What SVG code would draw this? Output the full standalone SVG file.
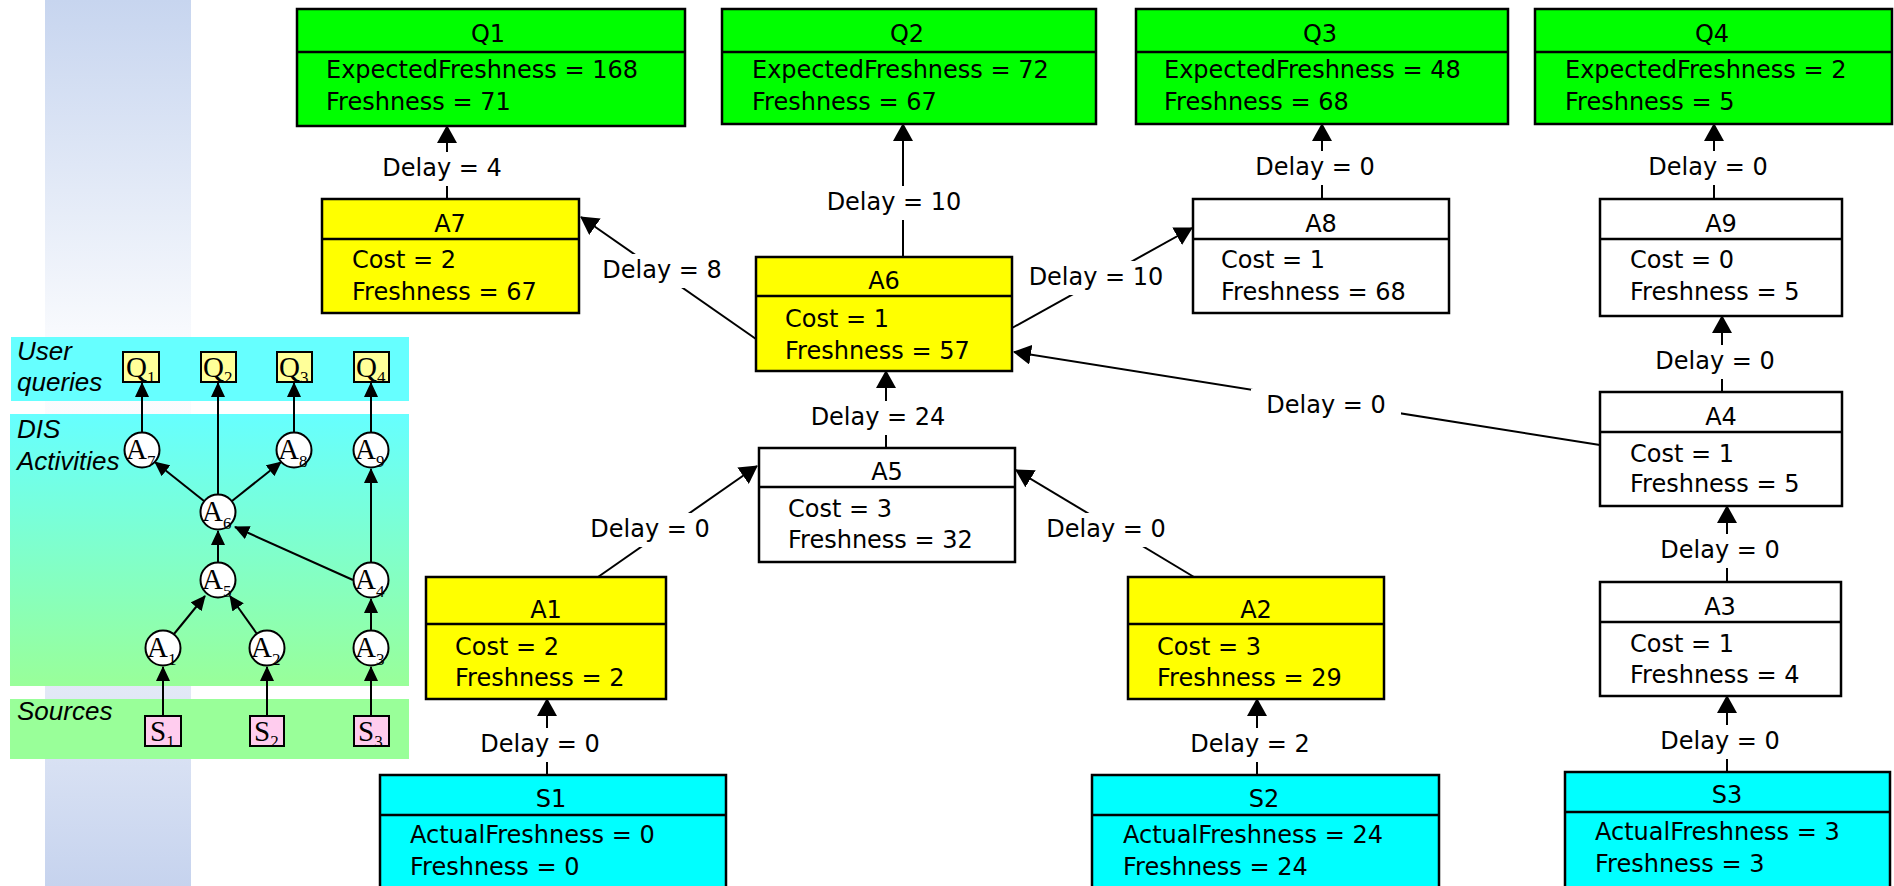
<svg xmlns="http://www.w3.org/2000/svg" width="1894" height="886" viewBox="0 0 1894 886">
  <defs>
    <style>
      .t { font-family: "DejaVu Sans", "Liberation Sans", sans-serif; font-size: 24px; fill: #000; }
      .c { text-anchor: middle; }
      .box { stroke: #000; stroke-width: 2.5; }
      .div { stroke: #000; stroke-width: 2.5; }
      .q { fill: #00ff00; }
      .y { fill: #ffff00; }
      .w { fill: #ffffff; }
      .s { fill: #00ffff; }
      .edge { stroke: #000; stroke-width: 2; fill: none; marker-end: url(#arr); }
      .lbg { fill: #ffffff; }
      .band-label { font-family: "Liberation Sans", Arial, sans-serif; font-style: italic; font-size: 26px; fill: #000; }
      .serif { font-family: "Liberation Serif", "Times New Roman", serif; font-size: 29px; fill: #000; }
      .sub { font-size: 17px; }
      .mini-edge { stroke: #000; stroke-width: 2; fill: none; marker-end: url(#arr-s); }
      .mini-box { stroke: #000; stroke-width: 2; }
      .circ { fill: #fff; stroke: #000; stroke-width: 2; }
    </style>
    <linearGradient id="strip" x1="0" y1="0" x2="0" y2="1">
      <stop offset="0" stop-color="#c7d5ef"/>
      <stop offset="0.4" stop-color="#fbfcfe"/>
      <stop offset="0.6" stop-color="#f9fafd"/>
      <stop offset="1" stop-color="#c6d3ee"/>
    </linearGradient>
    <linearGradient id="dis" x1="0" y1="0" x2="0" y2="1">
      <stop offset="0" stop-color="#66ffff"/>
      <stop offset="1" stop-color="#99ff99"/>
    </linearGradient>
    <marker id="arr" viewBox="0 0 18 20" refX="17" refY="10" markerWidth="18" markerHeight="20" markerUnits="userSpaceOnUse" orient="auto">
      <path d="M0,0 L18,10 L0,20 Z" fill="#000"/>
    </marker>
    <marker id="arr-s" viewBox="0 0 15 14" refX="14" refY="7" markerWidth="15" markerHeight="14" markerUnits="userSpaceOnUse" orient="auto">
      <path d="M0,0 L15,7 L0,14 Z" fill="#000"/>
    </marker>
  </defs>

  <!-- page background and side strip -->
  <rect x="0" y="0" width="1894" height="886" fill="#ffffff"/>
  <rect x="45" y="0" width="146" height="886" fill="url(#strip)"/>

  <!-- overview panel: bands -->
  <g id="overview-bands">
    <rect x="11" y="337" width="398" height="64" fill="#66ffff"/>
    <rect x="10" y="414" width="399" height="272" fill="url(#dis)"/>
    <rect x="10" y="699" width="399" height="60" fill="#99ff99"/>
    <text class="band-label" x="17" y="360">User</text>
    <text class="band-label" x="17" y="391">queries</text>
    <text class="band-label" x="17" y="438">DIS</text>
    <text class="band-label" x="17" y="470">Activities</text>
    <text class="band-label" x="17" y="720">Sources</text>
  </g>

  <!-- overview panel: connectors -->
  <g id="overview-connectors">
    <line class="mini-edge" x1="163" y1="716" x2="163" y2="667"/>
    <line class="mini-edge" x1="267" y1="716" x2="267" y2="667"/>
    <line class="mini-edge" x1="371" y1="716" x2="371" y2="667"/>
    <line class="mini-edge" x1="174" y1="634" x2="205" y2="596"/>
    <line class="mini-edge" x1="257" y1="634" x2="230" y2="596"/>
    <line class="mini-edge" x1="371" y1="630" x2="371" y2="599"/>
    <line class="mini-edge" x1="218" y1="562" x2="218" y2="531"/>
    <line class="mini-edge" x1="353" y1="580" x2="235" y2="527"/>
    <line class="mini-edge" x1="371" y1="562" x2="371" y2="469"/>
    <line class="mini-edge" x1="204" y1="501" x2="155" y2="462"/>
    <line class="mini-edge" x1="232" y1="501" x2="281" y2="462"/>
    <line class="mini-edge" x1="218" y1="494" x2="218" y2="383"/>
    <line class="mini-edge" x1="142" y1="432" x2="142" y2="383"/>
    <line class="mini-edge" x1="294" y1="432" x2="294" y2="383"/>
    <line class="mini-edge" x1="371" y1="432" x2="371" y2="383"/>
  </g>

  <!-- overview panel: query boxes -->
  <g id="ov-q1"><rect class="mini-box" x="123" y="352" width="36" height="30" fill="#ffff99"/><text class="serif" x="126" y="377">Q<tspan class="sub" dy="6">1</tspan></text></g>
  <g id="ov-q2"><rect class="mini-box" x="201" y="352" width="35" height="30" fill="#ffff99"/><text class="serif" x="203" y="377">Q<tspan class="sub" dy="6">2</tspan></text></g>
  <g id="ov-q3"><rect class="mini-box" x="277" y="352" width="35" height="30" fill="#ffff99"/><text class="serif" x="279" y="377">Q<tspan class="sub" dy="6">3</tspan></text></g>
  <g id="ov-q4"><rect class="mini-box" x="354" y="352" width="35" height="30" fill="#ffff99"/><text class="serif" x="356" y="377">Q<tspan class="sub" dy="6">4</tspan></text></g>

  <!-- overview panel: activity circles -->
  <g id="ov-a7"><circle class="circ" cx="142" cy="450" r="17.5"/><text class="serif" x="126" y="459">A<tspan class="sub" dy="8">7</tspan></text></g>
  <g id="ov-a8"><circle class="circ" cx="294" cy="450" r="17.5"/><text class="serif" x="278" y="459">A<tspan class="sub" dy="8">8</tspan></text></g>
  <g id="ov-a9"><circle class="circ" cx="371" cy="450" r="17.5"/><text class="serif" x="355" y="459">A<tspan class="sub" dy="8">9</tspan></text></g>
  <g id="ov-a6"><circle class="circ" cx="218" cy="512" r="17.5"/><text class="serif" x="202" y="521">A<tspan class="sub" dy="8">6</tspan></text></g>
  <g id="ov-a5"><circle class="circ" cx="218" cy="580" r="17.5"/><text class="serif" x="202" y="589">A<tspan class="sub" dy="8">5</tspan></text></g>
  <g id="ov-a4"><circle class="circ" cx="371" cy="580" r="17.5"/><text class="serif" x="355" y="589">A<tspan class="sub" dy="8">4</tspan></text></g>
  <g id="ov-a1"><circle class="circ" cx="163" cy="648" r="17.5"/><text class="serif" x="147" y="657">A<tspan class="sub" dy="8">1</tspan></text></g>
  <g id="ov-a2"><circle class="circ" cx="267" cy="648" r="17.5"/><text class="serif" x="251" y="657">A<tspan class="sub" dy="8">2</tspan></text></g>
  <g id="ov-a3"><circle class="circ" cx="371" cy="648" r="17.5"/><text class="serif" x="355" y="657">A<tspan class="sub" dy="8">3</tspan></text></g>

  <!-- overview panel: source boxes -->
  <g id="ov-s1"><rect class="mini-box" x="145" y="716" width="36" height="30" fill="#ffccee"/><text class="serif" x="150" y="741">S<tspan class="sub" dy="6">1</tspan></text></g>
  <g id="ov-s2"><rect class="mini-box" x="250" y="716" width="34" height="30" fill="#ffccee"/><text class="serif" x="254" y="741">S<tspan class="sub" dy="6">2</tspan></text></g>
  <g id="ov-s3"><rect class="mini-box" x="354" y="716" width="35" height="30" fill="#ffccee"/><text class="serif" x="358" y="741">S<tspan class="sub" dy="6">3</tspan></text></g>

  <!-- freshness graph: connectors with delay labels -->
  <g id="connectors">
    <line class="edge" x1="447" y1="199" x2="447" y2="126"/>
    <line class="edge" x1="903" y1="257" x2="903" y2="124"/>
    <line class="edge" x1="1322" y1="199" x2="1322" y2="124"/>
    <line class="edge" x1="1714" y1="199" x2="1714" y2="124"/>
    <line class="edge" x1="756" y1="339" x2="581" y2="217"/>
    <line class="edge" x1="1012" y1="328" x2="1192" y2="228"/>
    <line class="edge" x1="886" y1="448" x2="886" y2="371"/>
    <line class="edge" x1="1600" y1="445" x2="1014" y2="352"/>
    <line class="edge" x1="1722" y1="392" x2="1722" y2="316"/>
    <line class="edge" x1="598" y1="577" x2="757" y2="466"/>
    <line class="edge" x1="1194" y1="577" x2="1016" y2="470"/>
    <line class="edge" x1="1727" y1="582" x2="1727" y2="506"/>
    <line class="edge" x1="547" y1="775" x2="547" y2="699"/>
    <line class="edge" x1="1257" y1="775" x2="1257" y2="699"/>
    <line class="edge" x1="1727" y1="772" x2="1727" y2="696"/>

    <g class="label"><rect class="lbg" x="375" y="152" width="134" height="34"/><text class="t c" x="442" y="176">Delay = 4</text></g>
    <g class="label"><rect class="lbg" x="819" y="186" width="150" height="34"/><text class="t c" x="894" y="210">Delay = 10</text></g>
    <g class="label"><rect class="lbg" x="1248" y="151" width="134" height="34"/><text class="t c" x="1315" y="175">Delay = 0</text></g>
    <g class="label"><rect class="lbg" x="1641" y="151" width="134" height="34"/><text class="t c" x="1708" y="175">Delay = 0</text></g>
    <g class="label"><rect class="lbg" x="595" y="254" width="134" height="34"/><text class="t c" x="662" y="278">Delay = 8</text></g>
    <g class="label"><rect class="lbg" x="1021" y="261" width="150" height="34"/><text class="t c" x="1096" y="285">Delay = 10</text></g>
    <g class="label"><rect class="lbg" x="803" y="401" width="150" height="34"/><text class="t c" x="878" y="425">Delay = 24</text></g>
    <g class="label"><rect class="lbg" x="1251" y="389" width="150" height="34"/><text class="t c" x="1326" y="413">Delay = 0</text></g>
    <g class="label"><rect class="lbg" x="1648" y="345" width="134" height="34"/><text class="t c" x="1715" y="369">Delay = 0</text></g>
    <g class="label"><rect class="lbg" x="583" y="513" width="134" height="34"/><text class="t c" x="650" y="537">Delay = 0</text></g>
    <g class="label"><rect class="lbg" x="1039" y="513" width="134" height="34"/><text class="t c" x="1106" y="537">Delay = 0</text></g>
    <g class="label"><rect class="lbg" x="1653" y="534" width="134" height="34"/><text class="t c" x="1720" y="558">Delay = 0</text></g>
    <g class="label"><rect class="lbg" x="473" y="728" width="134" height="34"/><text class="t c" x="540" y="752">Delay = 0</text></g>
    <g class="label"><rect class="lbg" x="1183" y="728" width="134" height="34"/><text class="t c" x="1250" y="752">Delay = 2</text></g>
    <g class="label"><rect class="lbg" x="1653" y="725" width="134" height="34"/><text class="t c" x="1720" y="749">Delay = 0</text></g>
  </g>

  <!-- queries -->
  <g id="Q1">
    <rect class="box q" x="297" y="9" width="388" height="117"/>
    <line class="div" x1="297" y1="52" x2="685" y2="52"/>
    <text class="t c" x="488" y="42">Q1</text>
    <text class="t" x="326" y="78">ExpectedFreshness = 168</text>
    <text class="t" x="326" y="110">Freshness = 71</text>
  </g>
  <g id="Q2">
    <rect class="box q" x="722" y="9" width="374" height="115"/>
    <line class="div" x1="722" y1="52" x2="1096" y2="52"/>
    <text class="t c" x="907" y="42">Q2</text>
    <text class="t" x="752" y="78">ExpectedFreshness = 72</text>
    <text class="t" x="752" y="110">Freshness = 67</text>
  </g>
  <g id="Q3">
    <rect class="box q" x="1136" y="9" width="372" height="115"/>
    <line class="div" x1="1136" y1="52" x2="1508" y2="52"/>
    <text class="t c" x="1320" y="42">Q3</text>
    <text class="t" x="1164" y="78">ExpectedFreshness = 48</text>
    <text class="t" x="1164" y="110">Freshness = 68</text>
  </g>
  <g id="Q4">
    <rect class="box q" x="1535" y="9" width="357" height="115"/>
    <line class="div" x1="1535" y1="52" x2="1892" y2="52"/>
    <text class="t c" x="1712" y="42">Q4</text>
    <text class="t" x="1565" y="78">ExpectedFreshness = 2</text>
    <text class="t" x="1565" y="110">Freshness = 5</text>
  </g>

  <!-- activities -->
  <g id="A7">
    <rect class="box y" x="322" y="199" width="257" height="114"/>
    <line class="div" x1="322" y1="239" x2="579" y2="239"/>
    <text class="t c" x="450" y="232">A7</text>
    <text class="t" x="352" y="268">Cost = 2</text>
    <text class="t" x="352" y="300">Freshness = 67</text>
  </g>
  <g id="A6">
    <rect class="box y" x="756" y="257" width="256" height="114"/>
    <line class="div" x1="756" y1="296" x2="1012" y2="296"/>
    <text class="t c" x="884" y="289">A6</text>
    <text class="t" x="785" y="327">Cost = 1</text>
    <text class="t" x="785" y="359">Freshness = 57</text>
  </g>
  <g id="A8">
    <rect class="box w" x="1193" y="199" width="256" height="114"/>
    <line class="div" x1="1193" y1="239" x2="1449" y2="239"/>
    <text class="t c" x="1321" y="232">A8</text>
    <text class="t" x="1221" y="268">Cost = 1</text>
    <text class="t" x="1221" y="300">Freshness = 68</text>
  </g>
  <g id="A9">
    <rect class="box w" x="1600" y="199" width="242" height="117"/>
    <line class="div" x1="1600" y1="239" x2="1842" y2="239"/>
    <text class="t c" x="1721" y="232">A9</text>
    <text class="t" x="1630" y="268">Cost = 0</text>
    <text class="t" x="1630" y="300">Freshness = 5</text>
  </g>
  <g id="A5">
    <rect class="box w" x="759" y="448" width="256" height="114"/>
    <line class="div" x1="759" y1="487" x2="1015" y2="487"/>
    <text class="t c" x="887" y="480">A5</text>
    <text class="t" x="788" y="517">Cost = 3</text>
    <text class="t" x="788" y="548">Freshness = 32</text>
  </g>
  <g id="A4">
    <rect class="box w" x="1600" y="392" width="242" height="114"/>
    <line class="div" x1="1600" y1="432" x2="1842" y2="432"/>
    <text class="t c" x="1721" y="425">A4</text>
    <text class="t" x="1630" y="462">Cost = 1</text>
    <text class="t" x="1630" y="492">Freshness = 5</text>
  </g>
  <g id="A1">
    <rect class="box y" x="426" y="577" width="240" height="122"/>
    <line class="div" x1="426" y1="624" x2="666" y2="624"/>
    <text class="t c" x="546" y="618">A1</text>
    <text class="t" x="455" y="655">Cost = 2</text>
    <text class="t" x="455" y="686">Freshness = 2</text>
  </g>
  <g id="A2">
    <rect class="box y" x="1128" y="577" width="256" height="122"/>
    <line class="div" x1="1128" y1="624" x2="1384" y2="624"/>
    <text class="t c" x="1256" y="618">A2</text>
    <text class="t" x="1157" y="655">Cost = 3</text>
    <text class="t" x="1157" y="686">Freshness = 29</text>
  </g>
  <g id="A3">
    <rect class="box w" x="1600" y="582" width="241" height="114"/>
    <line class="div" x1="1600" y1="622" x2="1841" y2="622"/>
    <text class="t c" x="1720" y="615">A3</text>
    <text class="t" x="1630" y="652">Cost = 1</text>
    <text class="t" x="1630" y="683">Freshness = 4</text>
  </g>

  <!-- sources -->
  <g id="S1">
    <rect class="box s" x="380" y="775" width="346" height="130"/>
    <line class="div" x1="380" y1="815" x2="726" y2="815"/>
    <text class="t c" x="551" y="807">S1</text>
    <text class="t" x="410" y="843">ActualFreshness = 0</text>
    <text class="t" x="410" y="875">Freshness = 0</text>
  </g>
  <g id="S2">
    <rect class="box s" x="1092" y="775" width="347" height="130"/>
    <line class="div" x1="1092" y1="815" x2="1439" y2="815"/>
    <text class="t c" x="1264" y="807">S2</text>
    <text class="t" x="1123" y="843">ActualFreshness = 24</text>
    <text class="t" x="1123" y="875">Freshness = 24</text>
  </g>
  <g id="S3">
    <rect class="box s" x="1565" y="772" width="325" height="130"/>
    <line class="div" x1="1565" y1="812" x2="1890" y2="812"/>
    <text class="t c" x="1727" y="803">S3</text>
    <text class="t" x="1595" y="840">ActualFreshness = 3</text>
    <text class="t" x="1595" y="872">Freshness = 3</text>
  </g>
</svg>
